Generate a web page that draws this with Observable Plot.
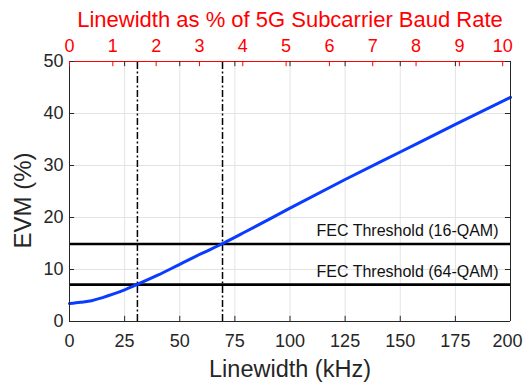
<!DOCTYPE html>
<html>
<head>
<meta charset="utf-8">
<script src="https://cdn.jsdelivr.net/npm/d3@7"></script>
<script src="https://cdn.jsdelivr.net/npm/@observablehq/plot@0.6"></script>
<style>
  html, body { margin: 0; padding: 0; background: #fff; }
  #chart { width: 524px; height: 388px; }
</style>
</head>
<body>
<div id="chart"></div>
<script>
// ---- data ----
const linewidthKHz = [0, 5, 10, 15, 20, 25, 30, 40, 50, 60, 70, 80, 100, 125, 150, 175, 200];
const evmPct       = [3.45, 3.7, 4.0, 4.6, 5.3, 6.1, 7.0, 8.9, 11.0, 13.1, 15.1, 17.3, 21.8, 27.3, 32.6, 37.9, 43.1];
const xTicks = [0, 25, 50, 75, 100, 125, 150, 175, 200];
const yTicks = [0, 10, 20, 30, 40, 50];
const topTicks = [0, 1, 2, 3, 4, 5, 6, 7, 8, 9, 10];
const topPctAtXMax = 10.18;          // % of baud rate at 200 kHz
const fecLevels = [14.9, 7.1];
const fecLabels = ["FEC Threshold (16-QAM)", "FEC Threshold (64-QAM)"];
const crossingKHz = [30.8, 69.4];

const xMax = 200, yMax = 50;
const kPerPct = xMax / topPctAtXMax;
const red = "#ff0000";
const axisCol = "#262626";
const gridCol = "#e3e3e3";
const font = "'Liberation Sans', Arial, Helvetica, sans-serif";

const curve = linewidthKHz.map((x, i) => ({x, y: evmPct[i]}));
const fec = fecLevels.map((y, i) => ({y, label: fecLabels[i]}));

const tickLenY = 1.0;   // in EVM units (~5px)
const tickLenX = 2.3;   // in kHz units (~5px)

const chart = Plot.plot({
  width: 524,
  height: 388,
  marginLeft: 69,
  marginRight: 14,
  marginTop: 61,
  marginBottom: 67,
  style: {fontFamily: font, color: axisCol, background: "#fff"},
  x: {domain: [0, xMax], axis: null},
  y: {domain: [0, yMax], axis: null},
  marks: [
    // grid
    Plot.ruleX(xTicks.slice(1, -1), {stroke: gridCol, strokeWidth: 1}),
    Plot.ruleY(yTicks.slice(1, -1), {stroke: gridCol, strokeWidth: 1}),
    // threshold lines
    Plot.ruleY(fec, {y: "y", x1: 0, x2: xMax, stroke: "#000", strokeWidth: 2.6}),
    Plot.text(fec, {y: "y", x: xMax, dx: -12, dy: -8, text: "label", textAnchor: "end",
      lineAnchor: "bottom", fontSize: 16, fill: "#111"}),
    // crossing verticals
    Plot.ruleX(crossingKHz, {y1: 0, y2: yMax, stroke: "#000", strokeWidth: 1.5, strokeDasharray: "7,2.5,2,2.5"}),
    // curve
    Plot.line(curve, {x: "x", y: "y", stroke: "#0a3cff", strokeWidth: 3, curve: "monotone-x"}),
    // box
    Plot.ruleY([0], {x1: 0, x2: xMax, stroke: axisCol, strokeWidth: 1}),
    Plot.ruleX([0, xMax], {y1: 0, y2: yMax, stroke: axisCol, strokeWidth: 1}),
    Plot.ruleY([yMax], {x1: 0, x2: xMax, stroke: red, strokeWidth: 1.2}),
    // inward ticks bottom/top (kHz)
    Plot.ruleX(xTicks, {y1: 0, y2: tickLenY, stroke: axisCol}),
    Plot.ruleX(xTicks, {y1: yMax - tickLenY, y2: yMax, stroke: axisCol}),
    // inward ticks left/right (EVM)
    Plot.ruleY(yTicks, {x1: 0, x2: tickLenX, stroke: axisCol}),
    Plot.ruleY(yTicks, {x1: xMax - tickLenX, x2: xMax, stroke: axisCol}),
    // top red ticks
    Plot.ruleX(topTicks, {x: d => d * kPerPct, y1: yMax - tickLenY, y2: yMax, stroke: red}),
    // bottom tick labels (last one nudged inward to fit)
    Plot.text(xTicks.slice(0, -1), {x: d => d, y: 0, dy: 13, text: d => String(d),
      lineAnchor: "top", fontSize: 18, fill: axisCol}),
    Plot.text(xTicks.slice(-1), {x: d => d, y: 0, dy: 13, dx: -3, text: d => String(d),
      lineAnchor: "top", fontSize: 18, fill: axisCol}),
    // left tick labels
    Plot.text(yTicks, {x: 0, y: d => d, dx: -6, text: d => String(d), textAnchor: "end",
      lineAnchor: "middle", fontSize: 18, fill: axisCol}),
    // top tick labels
    Plot.text(topTicks, {x: d => d * kPerPct, y: yMax, text: d => String(d), dy: -10,
      lineAnchor: "bottom", fontSize: 18, fill: red}),
    // axis titles
    Plot.text(["Linewidth (kHz)"], {frameAnchor: "bottom", dy: 55, lineAnchor: "bottom",
      fontSize: 23.5, fill: axisCol}),
    Plot.text(["Linewidth as % of 5G Subcarrier Baud Rate"], {frameAnchor: "top", dy: -35,
      lineAnchor: "bottom", fontSize: 22, fill: red}),
    Plot.text(["EVM (%)"], {frameAnchor: "left", dx: -46, dy: 9, rotate: -90,
      textAnchor: "middle", fontSize: 24, fill: axisCol})
  ]
});
document.getElementById("chart").append(chart);
</script>
</body>
</html>
